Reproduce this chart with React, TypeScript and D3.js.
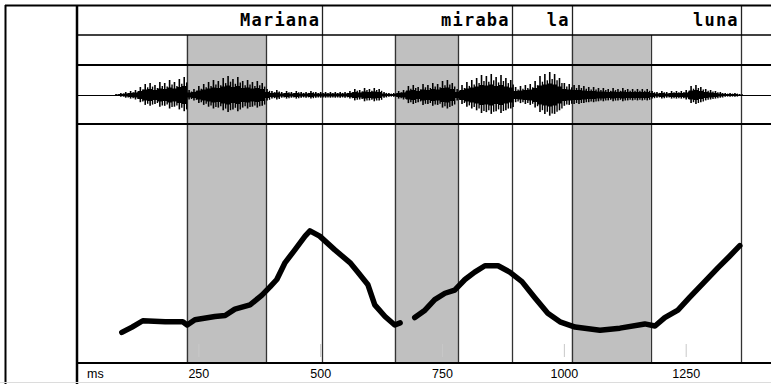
import React from "react";
import * as d3 from "d3";

// ---- data ----
const words = ["Mariana", "miraba", "la", "luna"];
const wordEnds = [503, 892, 1015, 1362]; // ms
const segmentBounds = [225, 388, 503, 652, 782, 892, 1015, 1177, 1362]; // ms
const shadedStarts = [225, 652, 1015];
const shadedEnds = [388, 782, 1177];
const tickValues = [250, 500, 750, 1000, 1250];
const axisUnit = "ms";

// waveform envelope, one value per 10 ms starting at 80 ms
const waveStart = 80;
const waveStep = 10;
const waveAmp = [
  1, 2, 3, 4, 5, 8, 11, 12, 10, 13, 12, 15, 13, 16, 18, 5, 6, 9, 11, 13,
  15, 14, 17, 19, 16, 18, 14, 15, 13, 14, 12, 6, 4, 5, 3, 4, 3, 4, 3, 3,
  4, 3, 3, 3, 3, 3, 3, 3, 4, 6, 5, 7, 6, 7, 6, 3, 2, 2, 4, 5,
  9, 10, 8, 11, 10, 12, 11, 14, 15, 12, 6, 10, 13, 15, 17, 20, 19, 21, 18, 20,
  17, 15, 8, 9, 10, 11, 14, 19, 21, 23, 21, 17, 12, 11, 10, 10, 9, 8, 8, 7,
  7, 6, 7, 6, 7, 6, 6, 6, 6, 6, 4, 3, 4, 3, 4, 4, 4, 5, 9, 10,
  8, 6, 5, 4, 3, 2, 2, 2, 1,
];

// pitch contour (ms, Hz), two voiced stretches
const pitch1T = [92, 113, 135, 181, 217, 226, 242, 283, 304, 324, 355, 379, 396, 410, 427, 447, 468, 478, 498, 529, 560, 576, 597, 611, 632, 652, 663];
const pitch1Hz = [103, 108, 114, 113, 113, 110, 115, 118, 119, 125, 129, 138, 146, 153, 169, 181, 194, 199, 194, 181, 169, 160, 148, 129, 118, 110, 112];
const pitch2T = [693, 714, 734, 755, 775, 796, 816, 837, 864, 888, 913, 939, 966, 991, 1022, 1073, 1114, 1165, 1186, 1206, 1233, 1257, 1288, 1315, 1339, 1360];
const pitch2Hz = [117, 124, 134, 140, 143, 153, 160, 166, 166, 160, 151, 136, 121, 113, 108, 105, 107, 111, 109, 117, 124, 136, 151, 164, 175, 185];

export default function App() {
  const W = 771;
  const H = 384;
  const left = 77;
  const x = d3.scaleLinear().domain([0, 1424]).range([left, W]);
  const yTop = 5;
  const yTier2 = 35;
  const yWave = 65;
  const yPitch = 124;
  const yAxis = 363;
  const waveCenter = 95;
  const amp = d3.scaleLinear().domain([-25, 25]).range([waveCenter + 25, waveCenter - 25]);
  const yHz = d3.scaleLinear().domain([75, 300]).range([yAxis - 1, yPitch]);

  const waveData = waveAmp.map((a, i) => ({ t: waveStart + i * waveStep, a }));
  const core = d3
    .area<{ t: number; a: number }>()
    .x((d) => x(d.t))
    .y0((d) => amp(-d.a * 0.5))
    .y1((d) => amp(d.a * 0.5))
    .curve(d3.curveStep);

  const line = d3
    .line<[number, number]>()
    .x((d) => x(d[0]))
    .y((d) => yHz(d[1]));
  const p1 = pitch1T.map((t, i) => [t, pitch1Hz[i]] as [number, number]);
  const p2 = pitch2T.map((t, i) => [t, pitch2Hz[i]] as [number, number]);

  return (
    <div style={{ position: "absolute", left: 0, top: 0 }}>
      <svg width={W} height={H} style={{ display: "block", background: "#fff" }}>
        {/* shaded segments */}
        {shadedStarts.map((s, i) => (
          <rect key={"sh" + i} x={x(s)} y={yTier2} width={x(shadedEnds[i]) - x(s)} height={yAxis - yTier2} fill="#c0c0c0" />
        ))}
        {/* light tick marks */}
        {tickValues.map((t) => (
          <line key={"tk" + t} x1={x(t)} x2={x(t)} y1={344} y2={357} stroke="#c8c8c8" strokeWidth={1} />
        ))}
        {/* segment boundaries */}
        {segmentBounds.map((b) => (
          <line key={"sb" + b} x1={Math.round(x(b)) + 0.5} x2={Math.round(x(b)) + 0.5} y1={yTier2} y2={yAxis} stroke="#333" strokeWidth={1.3} />
        ))}
        {/* word boundaries */}
        {wordEnds.map((b) => (
          <line key={"wb" + b} x1={Math.round(x(b)) + 0.5} x2={Math.round(x(b)) + 0.5} y1={yTop} y2={yTier2} stroke="#222" strokeWidth={1.3} />
        ))}
        {/* words */}
        {words.map((w, i) => (
          <text
            key={"w" + i}
            x={x(wordEnds[i]) - 2}
            y={26}
            textAnchor="end"
            fontFamily="'DejaVu Sans Mono', monospace"
            fontWeight="bold"
            fontSize={17}
            letterSpacing={1.2}
            fill="#000"
          >
            {w}
          </text>
        ))}
        {/* waveform */}
        <line x1={left} x2={W} y1={waveCenter + 0.5} y2={waveCenter + 0.5} stroke="#000" strokeWidth={1} />
        <path d={core(waveData) || ""} fill="#000" />
        {waveData.map((d, i) => (
          <g key={"wv" + i}>
            <line x1={x(d.t)} x2={x(d.t)} y1={amp(d.a)} y2={amp(-d.a * 0.9)} stroke="#000" strokeWidth={1.6} />
            <line x1={x(d.t + 5)} x2={x(d.t + 5)} y1={amp(d.a * 0.7)} y2={amp(-d.a * 0.8)} stroke="#000" strokeWidth={1.4} />
          </g>
        ))}
        {/* pitch */}
        <path d={line(p1) || ""} fill="none" stroke="#000" strokeWidth={5.5} strokeLinejoin="round" strokeLinecap="round" />
        <path d={line(p2) || ""} fill="none" stroke="#000" strokeWidth={5.5} strokeLinejoin="round" strokeLinecap="round" />
        {/* frame */}
        <line x1={5} x2={W} y1={yTop + 0.5} y2={yTop + 0.5} stroke="#000" strokeWidth={2} />
        <line x1={5.5} x2={5.5} y1={yTop} y2={H} stroke="#000" strokeWidth={2} />
        <line x1={left} x2={left} y1={yTop} y2={H} stroke="#000" strokeWidth={2.5} />
        <line x1={left} x2={W} y1={yTier2} y2={yTier2} stroke="#000" strokeWidth={1.6} />
        <line x1={left} x2={W} y1={yWave} y2={yWave} stroke="#000" strokeWidth={2.2} />
        <line x1={left} x2={W} y1={yPitch} y2={yPitch} stroke="#000" strokeWidth={2.2} />
        <line x1={left} x2={W} y1={yAxis} y2={yAxis} stroke="#000" strokeWidth={2.2} />
        <line x1={0} x2={W} y1={382.5} y2={382.5} stroke="#dcdcdc" strokeWidth={1} />
        {/* axis labels */}
        <text x={87} y={378} fontFamily="'Liberation Sans', Arial, sans-serif" fontSize={12.5} fill="#000">
          {axisUnit}
        </text>
        {tickValues.map((t) => (
          <text key={"tl" + t} x={x(t)} y={378} textAnchor="middle" fontFamily="'Liberation Sans', Arial, sans-serif" fontSize={12.5} fill="#000">
            {t}
          </text>
        ))}
      </svg>
    </div>
  );
}
